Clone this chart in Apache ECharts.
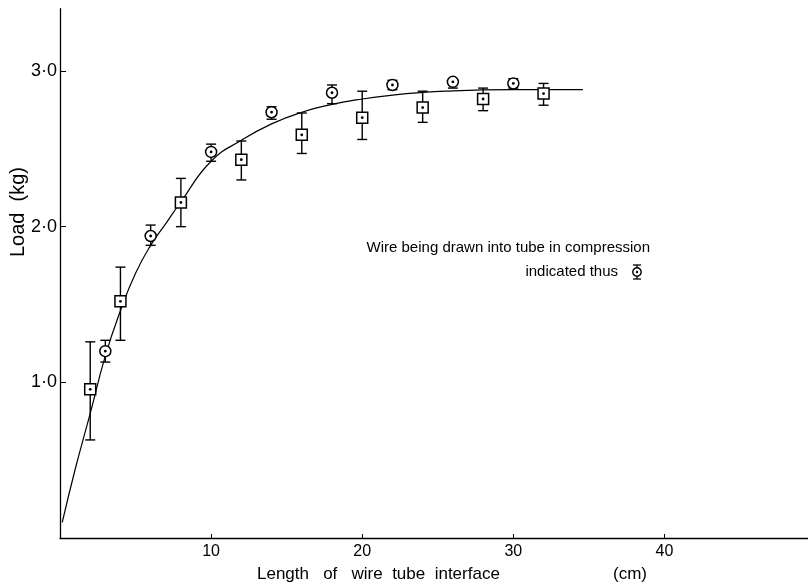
<!DOCTYPE html>
<html>
<head>
<meta charset="utf-8">
<script src="https://cdn.jsdelivr.net/npm/echarts@6/dist/echarts.min.js"></script>
<style>html,body{margin:0;padding:0;background:#fff;}#c{width:808px;height:585px;}</style>
</head>
<body>
<div id="c"></div>
<script>
// Tension (square) points: x (cm), load (kg), lower, upper error
var sqX  = [2, 4, 8, 12, 16, 20, 24, 28, 32];
var sqY  = [0.955, 1.52, 2.155, 2.43, 2.59, 2.70, 2.765, 2.82, 2.855];
var sqLo = [0.63, 1.27, 2.00, 2.30, 2.47, 2.56, 2.67, 2.745, 2.78];
var sqHi = [1.26, 1.74, 2.31, 2.55, 2.73, 2.87, 2.87, 2.89, 2.92];
// Compression (circle) points
var ciX  = [3, 6, 10, 14, 18, 22, 26, 30];
var ciY  = [1.20, 1.94, 2.48, 2.735, 2.86, 2.91, 2.93, 2.92];
var ciLo = [1.13, 1.88, 2.42, 2.69, 2.79, 2.88, 2.89, 2.89];
var ciHi = [1.27, 2.01, 2.53, 2.77, 2.91, 2.94, 2.95, 2.95];
// Fitted curve
var curveX = [0.15, 1, 2, 3, 4, 5, 6, 7, 8, 10, 12, 14, 16, 18, 20, 22, 24, 26, 28, 30, 32, 34.6];
var curveY = [0.10, 0.44, 0.80, 1.17, 1.46, 1.70, 1.88, 2.02, 2.16, 2.42, 2.555, 2.66, 2.735, 2.785, 2.82, 2.845, 2.862, 2.872, 2.878, 2.88, 2.88, 2.88];
// Tick labels
var xTickVals = [10, 20, 30, 40];
var xTickLabels = ['10', '20', '30', '40'];
var yTickVals = [1, 2, 3];
var yTickLabels = ['1·0', '2·0', '3·0'];

var FONT = 'Liberation Sans, Arial, sans-serif';

function zip4(a, b, c, d) { return a.map(function (v, i) { return [v, b[i], c[i], d[i]]; }); }

function makeRender(shape) {
  return function (params, api) {
    var x = api.value(0);
    var p = api.coord([x, api.value(1)]);
    var lo = api.coord([x, api.value(2)]);
    var hi = api.coord([x, api.value(3)]);
    var r = 5.5, cap = 5;
    var st = { stroke: '#000', lineWidth: 1.4, fill: null };
    var ch = [];
    if (hi[1] < p[1] - r) ch.push({ type: 'line', shape: { x1: p[0], y1: hi[1], x2: p[0], y2: p[1] - r }, style: st });
    if (lo[1] > p[1] + r) ch.push({ type: 'line', shape: { x1: p[0], y1: p[1] + r, x2: p[0], y2: lo[1] }, style: st });
    ch.push({ type: 'line', shape: { x1: p[0] - cap, y1: hi[1], x2: p[0] + cap, y2: hi[1] }, style: st });
    ch.push({ type: 'line', shape: { x1: p[0] - cap, y1: lo[1], x2: p[0] + cap, y2: lo[1] }, style: st });
    if (shape === 'rect') {
      ch.push({ type: 'rect', shape: { x: p[0] - r, y: p[1] - r, width: 2 * r, height: 2 * r }, style: { stroke: '#000', lineWidth: 1.5, fill: '#fff' } });
    } else {
      ch.push({ type: 'circle', shape: { cx: p[0], cy: p[1], r: r }, style: { stroke: '#000', lineWidth: 1.5, fill: '#fff' } });
    }
    ch.push({ type: 'circle', shape: { cx: p[0], cy: p[1], r: 1.4 }, style: { fill: '#000' } });
    return { type: 'group', children: ch };
  };
}

var chart = echarts.init(document.getElementById('c'), null, { renderer: 'canvas' });
chart.setOption({
  backgroundColor: '#fff',
  animation: false,
  grid: { left: 60, right: 0, top: 8.7, bottom: 47, containLabel: false },
  xAxis: {
    type: 'value', min: 0, max: 49.5, interval: 10,
    axisLine: { show: true, lineStyle: { color: '#000', width: 1.3 } },
    axisTick: { show: true, inside: true, length: 4, customValues: xTickVals, lineStyle: { color: '#000', width: 1 } },
    splitLine: { show: false },
    axisLabel: { color: '#000', fontSize: 16, fontFamily: FONT, margin: 6, customValues: xTickVals,
      formatter: function (v) { var i = xTickVals.indexOf(v); return i >= 0 ? xTickLabels[i] : ''; } }
  },
  yAxis: {
    type: 'value', min: 0, max: 3.4, interval: 1,
    axisLine: { show: true, lineStyle: { color: '#000', width: 1.3 } },
    axisTick: { show: true, inside: true, length: 6, customValues: yTickVals, lineStyle: { color: '#000', width: 1 } },
    splitLine: { show: false },
    axisLabel: { color: '#000', fontSize: 18, fontFamily: FONT, margin: 3, customValues: yTickVals,
      formatter: function (v) { var i = yTickVals.indexOf(v); return i >= 0 ? yTickLabels[i] : ''; } }
  },
  series: [
    {
      type: 'line', smooth: true, showSymbol: false, silent: true,
      data: curveX.map(function (v, i) { return [v, curveY[i]]; }),
      lineStyle: { color: '#000', width: 1.2 }, z: 1
    },
    { type: 'custom', renderItem: makeRender('rect'), data: zip4(sqX, sqY, sqLo, sqHi), encode: { x: 0, y: 1 }, z: 3 },
    { type: 'custom', renderItem: makeRender('circle'), data: zip4(ciX, ciY, ciLo, ciHi), encode: { x: 0, y: 1 }, z: 3 }
  ],
  graphic: [
    { type: 'text', x: 18, y: 212, rotation: Math.PI / 2, style: { text: 'Load  (kg)', fontSize: 20, fontFamily: FONT, fill: '#000', align: 'center', verticalAlign: 'middle' } },
    { type: 'text', x: 257, y: 574, style: { text: 'Length   of   wire  tube  interface', fontSize: 17, fontFamily: FONT, fill: '#000', align: 'left', verticalAlign: 'middle' } },
    { type: 'text', x: 630, y: 574, style: { text: '(cm)', fontSize: 17, fontFamily: FONT, fill: '#000', align: 'center', verticalAlign: 'middle' } },
    { type: 'text', x: 650, y: 248, style: { text: 'Wire being drawn into tube in compression', fontSize: 15, fontFamily: FONT, fill: '#000', align: 'right', verticalAlign: 'middle' } },
    { type: 'text', x: 618, y: 272, style: { text: 'indicated thus', fontSize: 15, fontFamily: FONT, fill: '#000', align: 'right', verticalAlign: 'middle' } },
    { type: 'group', x: 637, y: 272, children: [
      { type: 'circle', shape: { cx: 0, cy: 0, r: 4.2 }, style: { stroke: '#000', lineWidth: 1.4, fill: '#fff' } },
      { type: 'circle', shape: { cx: 0, cy: 0, r: 1.2 }, style: { fill: '#000' } },
      { type: 'line', shape: { x1: -4, y1: -7, x2: 4, y2: -7 }, style: { stroke: '#000', lineWidth: 1.3 } },
      { type: 'line', shape: { x1: 0, y1: -7, x2: 0, y2: -4.2 }, style: { stroke: '#000', lineWidth: 1.3 } },
      { type: 'line', shape: { x1: -4, y1: 7, x2: 4, y2: 7 }, style: { stroke: '#000', lineWidth: 1.3 } },
      { type: 'line', shape: { x1: 0, y1: 4.2, x2: 0, y2: 7 }, style: { stroke: '#000', lineWidth: 1.3 } }
    ] }
  ]
});
</script>
</body>
</html>
